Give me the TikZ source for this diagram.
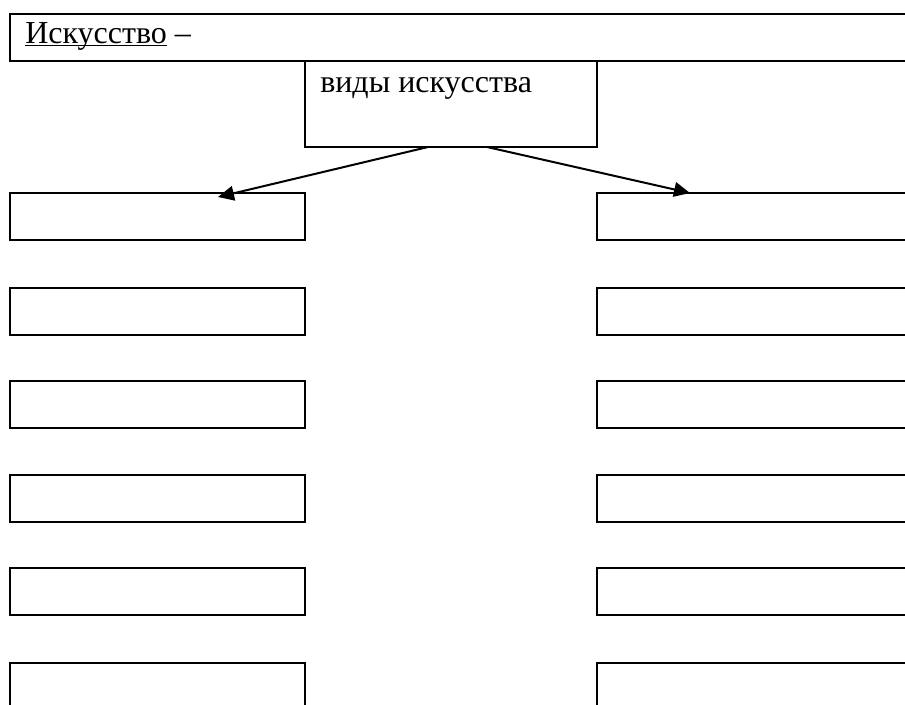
\documentclass[tikz,border=0pt]{standalone}
\usepackage{fontspec}
\setmainfont{Liberation Serif}
\usepackage{tikz}
\usetikzlibrary{arrows.meta, calc}

\begin{document}
\begin{tikzpicture}[x=0.75pt,y=0.75pt,yscale=-1,xscale=1,
  cellbox/.style={draw, line width=1.6pt, inner sep=0pt, outer sep=0pt, anchor=north west},
  leftcell/.style={cellbox, minimum width=221.25pt, minimum height=35.25pt},
  rightcell/.style={cellbox, minimum width=240pt, minimum height=35.25pt},
  label/.style={anchor=base west, inner sep=0pt, font=\fontsize{24}{28}\selectfont},
  pointer/.style={line width=1.5pt, -{Triangle[length=12pt, width=11pt]}}]
\clip (0,0) rectangle (905,704);

% Title bar
\node [cellbox, minimum width=678.75pt, minimum height=35.25pt] (title) at (10,14) {};
\node [label] (titletext) at (25,43) {\underline{\smash{Искусство}} –};
% Kinds box
\node [cellbox, minimum width=219pt, minimum height=64.5pt] (kinds) at (305,61) {};
\node [label] (kindstext) at (320,92) {виды искусства};

% Left column
\node [leftcell] (l1) at (10,193) {};
\node [leftcell] (l2) at (10,288) {};
\node [leftcell] (l3) at (10,381) {};
\node [leftcell] (l4) at (10,475) {};
\node [leftcell] (l5) at (10,568) {};
\node [leftcell] (l6) at (10,663) {};

% Right column
\node [rightcell] (r1) at (597,193) {};
\node [rightcell] (r2) at (597,288) {};
\node [rightcell] (r3) at (597,381) {};
\node [rightcell] (r4) at (597,475) {};
\node [rightcell] (r5) at (597,568) {};
\node [rightcell] (r6) at (597,663) {};

% Arrows
\draw [pointer] ($(kinds.south)+(-23,0)$) -- ($(l1.north west)+(208,4)$);
\draw [pointer] ($(kinds.south)+(36,0)$) -- ($(r1.north west)+(93,0)$);

\end{tikzpicture}
\end{document}
